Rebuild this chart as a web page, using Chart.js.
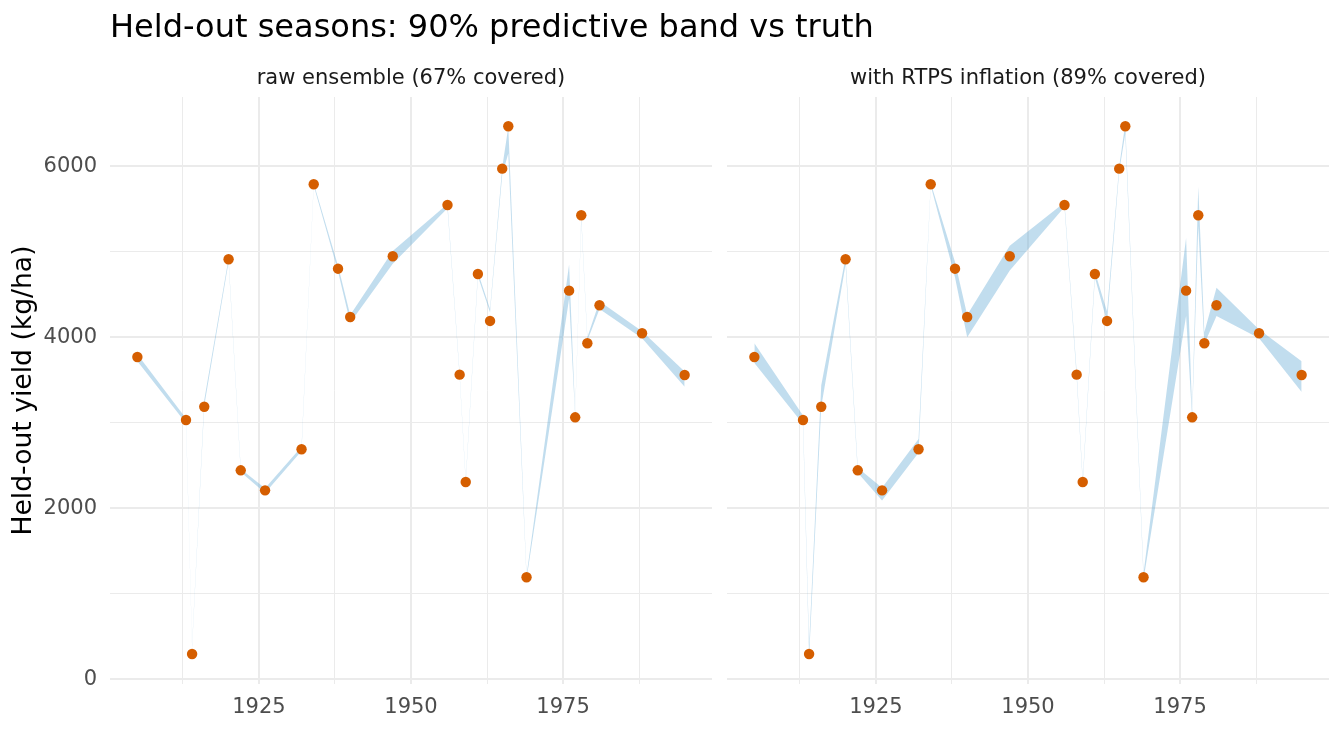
<!DOCTYPE html>
<html>
<head>
<meta charset="utf-8">
<script src="https://cdn.jsdelivr.net/npm/chart.js@4.4.1/dist/chart.umd.min.js"></script>
<style>
html,body{margin:0;padding:0;background:#ffffff;}
#wrap{position:relative;width:1344px;height:729px;overflow:hidden;background:#ffffff;}
#c1{position:absolute;left:0;top:0;}
#c2{position:absolute;left:712px;top:0;}
#title{position:absolute;left:110px;top:10px;font-family:"DejaVu Sans";font-size:32px;line-height:32px;color:#000000;white-space:nowrap;z-index:5;}
</style>
</head>
<body>
<div id="wrap">
<canvas id="c1" width="712" height="729"></canvas>
<canvas id="c2" width="632" height="729"></canvas>
<div id="title">Held-out seasons: 90% predictive band vs truth</div>
</div>
<script>
// ---------- data ----------
const years = [1905,1913,1914,1916,1920,1922,1926,1932,1934,1938,1940,1947,1956,1958,1959,1961,1963,1965,1966,1969,1976,1977,1978,1979,1981,1988,1995];
const truth = [3769,3033,296,3188,4912,2444,2210,2690,5789,4802,4237,4947,5547,3563,2308,4740,4191,5972,6468,1193,4545,3064,5427,3930,4374,4047,3559];

const rawLower  = [3720,2995,370,3200,4880,2425,2180,2670,5775,4770,4170,4860,5510,3540,2295,4715,4290,5900,6150,1175,4450,3070,5370,3960,4330,3990,3420];
const rawUpper  = [3800,3050,400,3265,4925,2460,2235,2720,5800,4835,4260,5010,5560,3575,2330,4760,4330,5985,6460,1215,4850,3110,5420,4000,4420,4070,3600];

const rtpsLower = [3700,2985,257,3190,4850,2415,2090,2650,5775,4700,4000,4780,5525,3535,2285,4700,4180,5945,6380,1170,4250,3050,5300,3920,4250,3990,3360];
const rtpsUpper = [3930,3085,400,3440,4935,2475,2240,2810,5805,4880,4260,5070,5575,3600,2335,4765,4300,6000,6498,1240,5160,3120,5760,4060,4580,4090,3720];

const panelLabels = ["raw ensemble (67% covered)", "with RTPS inflation (89% covered)"];
const yAxisLabel = "Held-out yield (kg/ha)";

const xMajorTicks = [1925,1950,1975];
const xMinorTicks = [1912.5,1937.5,1962.5,1987.5];
const yMajorTicks = [0,2000,4000,6000];
const yMinorTicks = [1000,3000,5000];

// ---------- styling ----------
const FONT = "DejaVu Sans";
const ribbonColor = "rgba(107,174,214,0.42)";
const pointColor = "#D55E00";
const gridColor = "#EBEBEB";
const X_MIN = 1900.5, X_MAX = 1999.5;
const Y_MIN = -55, Y_MAX = 6810;

const xAll = xMajorTicks.concat(xMinorTicks).sort((a,b)=>a-b);
const yAll = yMajorTicks.concat(yMinorTicks).sort((a,b)=>a-b);

function makeChart(canvasId, lower, upper, label, showY) {
  const ctx = document.getElementById(canvasId).getContext('2d');
  return new Chart(ctx, {
    type: 'line',
    data: {
      datasets: [
        {
          data: years.map((x,i)=>({x:x, y:lower[i]})),
          borderColor: 'rgba(0,0,0,0)', borderWidth: 0,
          pointRadius: 0, fill: false, order: 2
        },
        {
          data: years.map((x,i)=>({x:x, y:upper[i]})),
          borderColor: 'rgba(0,0,0,0)', borderWidth: 0,
          pointRadius: 0, fill: '-1', backgroundColor: ribbonColor, order: 2
        },
        {
          data: years.map((x,i)=>({x:x, y:truth[i]})),
          showLine: false, pointRadius: 5.2, pointHoverRadius: 5.2,
          pointBackgroundColor: pointColor, pointBorderColor: pointColor,
          pointBorderWidth: 0, order: 1
        }
      ]
    },
    options: {
      responsive: false,
      animation: false,
      devicePixelRatio: 1,
      layout: { autoPadding: false, padding: { left: 0, right: showY ? 0 : 15, top: 0, bottom: 0 } },
      plugins: {
        legend: { display: false },
        tooltip: { enabled: false },
        title: {
          display: true, text: label, fullSize: false,
          font: { family: FONT, size: 21, weight: 'normal' },
          color: '#1A1A1A',
          padding: { top: 66, bottom: 5.8 }
        }
      },
      scales: {
        x: {
          type: 'linear', min: X_MIN, max: X_MAX,
          afterBuildTicks: s => { s.ticks = xAll.map(v=>({value:v})); },
          afterFit: s => { s.height = 45; s.paddingLeft = 0; s.paddingRight = 0; },
          grid: {
            color: gridColor, drawTicks: false,
            lineWidth: c => (c.tick && xMajorTicks.includes(c.tick.value)) ? 2 : 1
          },
          border: { display: false },
          ticks: {
            autoSkip: false, maxRotation: 0, padding: 10.5,
            color: '#4D4D4D', font: { family: FONT, size: 21 },
            callback: v => xMajorTicks.includes(v) ? String(v) : ''
          }
        },
        y: {
          type: 'linear', min: Y_MIN, max: Y_MAX,
          afterBuildTicks: s => { s.ticks = yAll.map(v=>({value:v})); },
          afterFit: s => { s.width = showY ? 110 : 15; s.paddingTop = 0; s.paddingBottom = 0; },
          grid: {
            color: gridColor, drawTicks: false,
            lineWidth: c => (c.tick && yMajorTicks.includes(c.tick.value)) ? 2 : 1
          },
          border: { display: false },
          title: {
            display: showY, text: yAxisLabel, color: '#000000',
            font: { family: FONT, size: 26.6, weight: 'normal' },
            padding: { top: 8, bottom: 0 }
          },
          ticks: {
            display: showY, autoSkip: false, padding: 13,
            color: '#4D4D4D', font: { family: FONT, size: 21 },
            callback: v => yMajorTicks.includes(v) ? String(v) : ''
          }
        }
      }
    }
  });
}

makeChart('c1', rawLower, rawUpper, panelLabels[0], true);
makeChart('c2', rtpsLower, rtpsUpper, panelLabels[1], false);
</script>
</body>
</html>
